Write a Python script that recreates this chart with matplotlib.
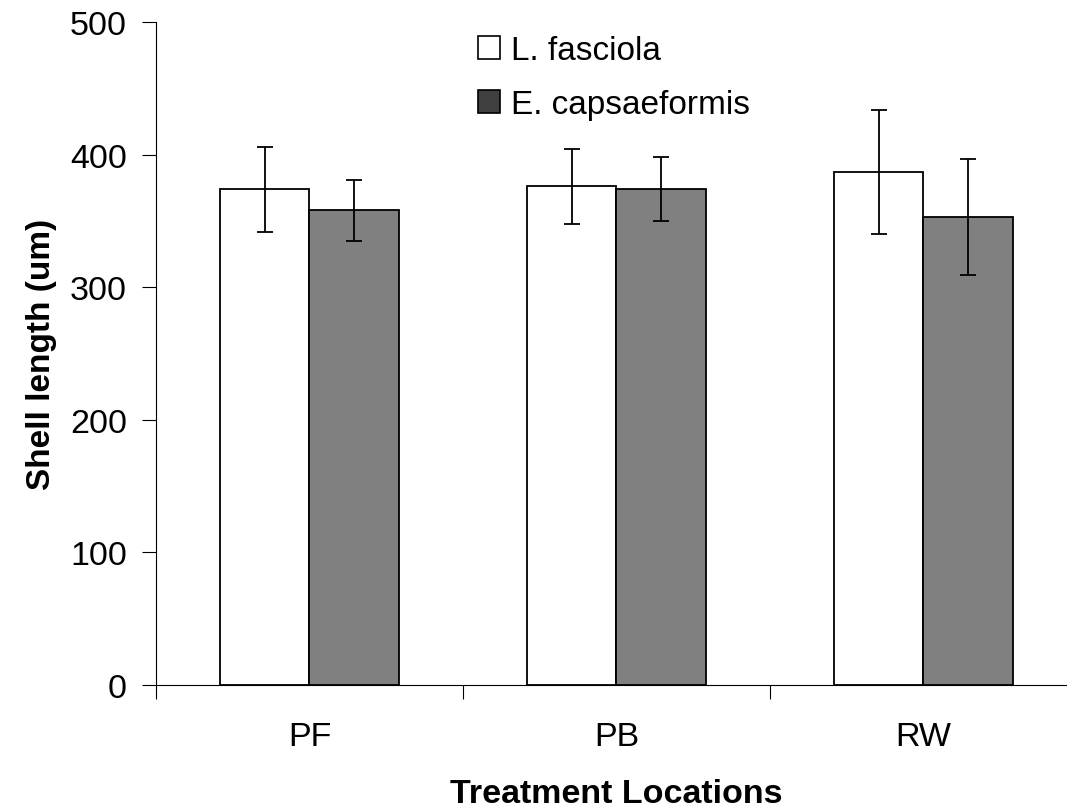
import numpy as np
import matplotlib
matplotlib.use("Agg")
import matplotlib.pyplot as plt
from matplotlib.patches import Patch

plt.rcParams['font.family'] = ['Liberation Sans', 'DejaVu Sans']

# data
locations = ['PF', 'PB', 'RW']
series = ['L. fasciola', 'E. capsaeformis']
fasciola_mean = [374, 376, 387]
fasciola_err = [32, 28, 47]
capsa_mean = [358, 374, 353]
capsa_err = [23, 24, 44]

fig = plt.figure(figsize=(10.67, 8.12), dpi=100)
ax = fig.add_axes([156 / 1067, 1 - 686 / 812, 921 / 1067, 663 / 812])

x = np.arange(len(locations)) + 0.5
w = 0.29
err_kw = dict(ecolor='black', elinewidth=1.3, capsize=6, capthick=1.3)
ax.bar(x - w / 2, fasciola_mean, w, yerr=fasciola_err, color='white',
       edgecolor='black', linewidth=1.3, error_kw=err_kw, zorder=2)
ax.bar(x + w / 2, capsa_mean, w, yerr=capsa_err, color='#808080',
       edgecolor='black', linewidth=1.3, error_kw=err_kw, zorder=2)

ax.set_xlim(0, 3)
ax.set_ylim(0, 500)
ax.set_yticks([0, 100, 200, 300, 400, 500])
ax.set_xticks([0, 1, 2, 3])
ax.set_xticklabels([])
ax.set_xticks(x, minor=True)
ax.set_xticklabels(locations, minor=True)
ax.tick_params(axis='x', which='major', direction='out', length=10, width=0.8)
ax.tick_params(axis='x', which='minor', length=0, pad=26, labelsize=24.5)
ax.tick_params(axis='y', direction='out', length=10, width=0.8, pad=11, labelsize=24.5)

for side in ['top', 'right']:
    ax.spines[side].set_visible(False)
for side in ['left', 'bottom']:
    ax.spines[side].set_linewidth(0.8)

ax.set_ylabel('Shell length (um)', fontsize=24, fontweight='bold', labelpad=9)
ax.set_xlabel('Treatment Locations', fontsize=24.5, fontweight='bold', labelpad=19)

handles = [Patch(facecolor='white', edgecolor='black', linewidth=1.2),
           Patch(facecolor='#404040', edgecolor='black', linewidth=1.2)]
fig.legend(handles, series, loc='upper left',
           bbox_to_anchor=(478 / 1067, 1 - 36 / 812), bbox_transform=fig.transFigure,
           frameon=False, fontsize=24, handlelength=0.66, handleheight=0.66,
           handletextpad=0.33, labelspacing=0.7, borderpad=0, borderaxespad=0)

fig.savefig('out.png', dpi=100)
